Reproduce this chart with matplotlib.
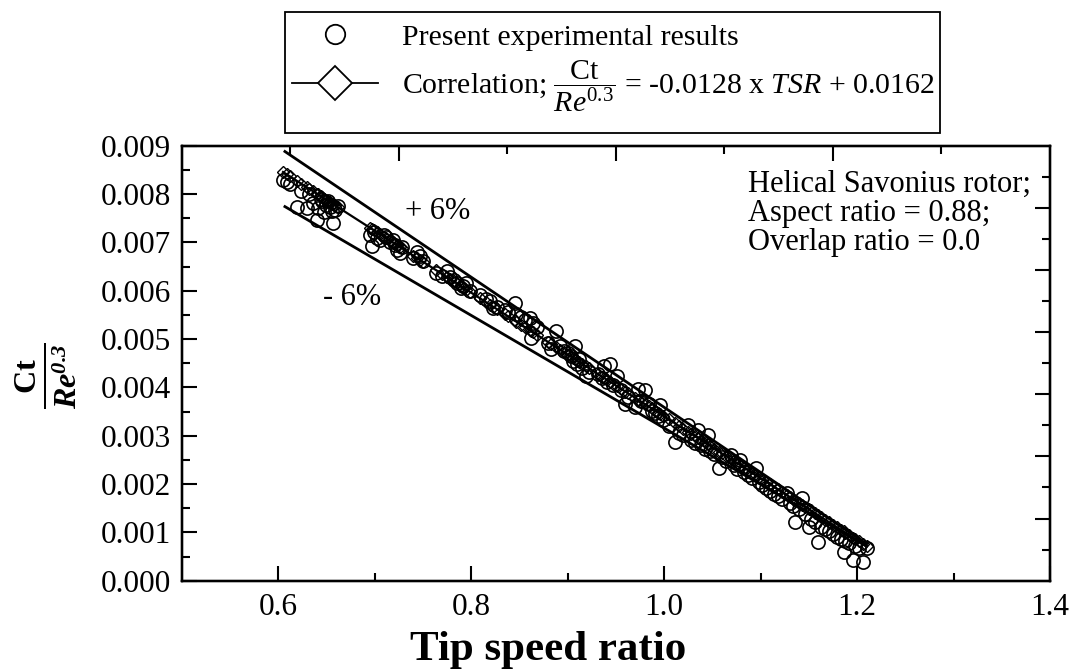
import matplotlib
matplotlib.use("Agg")
import matplotlib.pyplot as plt
from matplotlib.lines import Line2D
from matplotlib.patches import Rectangle
import numpy as np

plt.rcParams['font.family'] = ['Liberation Serif', 'DejaVu Serif']
plt.rcParams['mathtext.fontset'] = 'custom'
plt.rcParams['mathtext.rm'] = 'Liberation Serif'
plt.rcParams['mathtext.it'] = 'Liberation Serif:italic'
plt.rcParams['mathtext.bf'] = 'Liberation Serif:bold'
plt.rcParams['mathtext.bfit'] = 'Liberation Serif:bold:italic'

# ---------------- data ----------------
tsr = [0.605, 0.609, 0.612, 0.619, 0.624, 0.630, 0.632, 0.636, 0.640, 0.641, 0.644, 0.645, 0.648, 0.650,
       0.652, 0.654, 0.656, 0.657, 0.659, 0.662,
       0.695, 0.697, 0.699, 0.702, 0.706, 0.710, 0.712, 0.716, 0.719, 0.721, 0.723, 0.726, 0.728,
       0.740, 0.744, 0.747, 0.750,
       0.764, 0.770, 0.775, 0.778, 0.782, 0.785, 0.789, 0.792, 0.795, 0.799,
       0.809, 0.815, 0.820, 0.823, 0.827, 0.835, 0.838, 0.845, 0.847, 0.852, 0.856, 0.861, 0.862, 0.864, 0.868,
       0.880, 0.883, 0.888, 0.892, 0.896, 0.900, 0.903, 0.906, 0.908, 0.910, 0.912, 0.915, 0.919, 0.922,
       0.932, 0.936, 0.938, 0.941, 0.944, 0.947, 0.951, 0.955, 0.960, 0.963,
       0.970, 0.973, 0.976, 0.980, 0.984, 0.987, 0.991, 0.994, 0.996, 0.999,
       1.005, 1.011, 1.015, 1.020, 1.025, 1.028, 1.032, 1.035, 1.038, 1.042, 1.045, 1.048,
       1.052, 1.057, 1.060, 1.064, 1.069, 1.072, 1.076, 1.079, 1.083, 1.087, 1.091, 1.095, 1.098,
       1.102, 1.106, 1.110, 1.114, 1.118, 1.122, 1.127, 1.130, 1.134, 1.136, 1.140, 1.143, 1.146, 1.150,
       1.152, 1.156, 1.160,
       1.163, 1.167, 1.171, 1.175, 1.179, 1.183, 1.186, 1.188, 1.192, 1.196, 1.198, 1.202, 1.206, 1.210]
ct_re = [0.00829, 0.00824, 0.00820, 0.00774, 0.00806, 0.00771, 0.00800, 0.00782, 0.00747, 0.00772, 0.00790,
         0.00785, 0.00762, 0.00778, 0.00786, 0.00774, 0.00765, 0.00740, 0.00768, 0.00775,
         0.00716, 0.00692, 0.00722, 0.00710, 0.00705, 0.00715, 0.00712, 0.00700, 0.00705, 0.00695, 0.00685,
         0.00678, 0.00690,
         0.00667, 0.00681, 0.00672, 0.00662,
         0.00636, 0.00630, 0.00640, 0.00628, 0.00623, 0.00615, 0.00605, 0.00610, 0.00616, 0.00600,
         0.00592, 0.00582, 0.00578, 0.00565, 0.00567, 0.00561, 0.00555, 0.00575, 0.00551, 0.00545, 0.00540,
         0.00544, 0.00503, 0.00534, 0.00525,
         0.00492, 0.00479, 0.00517, 0.00485, 0.00475, 0.00471, 0.00465, 0.00455, 0.00486, 0.00448, 0.00459,
         0.00440, 0.00424, 0.00432,
         0.00428, 0.00420, 0.00445, 0.00411, 0.00448, 0.00405, 0.00424, 0.00395, 0.00366, 0.00380,
         0.00360, 0.00397, 0.00372, 0.00394, 0.00365, 0.00352, 0.00346, 0.00340, 0.00363, 0.00332,
         0.00320, 0.00288, 0.00305, 0.00302, 0.00322, 0.00292, 0.00285, 0.00312, 0.00280, 0.00272, 0.00302,
         0.00268,
         0.00262, 0.00233, 0.00255, 0.00248, 0.00260, 0.00240, 0.00232, 0.00250, 0.00225, 0.00218, 0.00212,
         0.00233, 0.00205,
         0.00198, 0.00192, 0.00186, 0.00180, 0.00175, 0.00170, 0.00181, 0.00160, 0.00155, 0.00122, 0.00148,
         0.00171, 0.00138, 0.00112, 0.00128, 0.00122, 0.00081,
         0.00112, 0.00108, 0.00102, 0.00096, 0.00091, 0.00086, 0.00060, 0.00082, 0.00077, 0.00043, 0.00072,
         0.00068, 0.00039, 0.00067]

# correlation: Ct/Re^0.3 = slope * TSR + intercept
corr_slope = -0.0128
corr_intercept = 0.0162
corr_x_range = [0.605, 1.21]

# +/- 6 % band lines (end points)
band_plus_x = [0.607, 1.21]
band_plus_y = [0.00888, 0.00076]
band_minus_x = [0.607, 1.21]
band_minus_y = [0.00774, 0.00071]

x_ticks = [0.6, 0.8, 1.0, 1.2, 1.4]
y_ticks = [0.000, 0.001, 0.002, 0.003, 0.004, 0.005, 0.006, 0.007, 0.008, 0.009]

# ---------------- figure ----------------
W, H = 1078, 671
fig = plt.figure(figsize=(W / 100, H / 100), dpi=100)
ax_l, ax_r, ax_b, ax_t = 181.7, 1050, 580.7, 145.7
ax = fig.add_axes([ax_l / W, 1 - ax_b / H, (ax_r - ax_l) / W, (ax_b - ax_t) / H])

# experimental points
ax.plot(tsr, ct_re, linestyle='none', marker='o', ms=9.5, mfc='none', mec='black', mew=1.2, zorder=3)

# band lines
ax.plot(band_plus_x, band_plus_y, color='black', lw=2.0, zorder=4)
ax.plot(band_minus_x, band_minus_y, color='black', lw=2.0, zorder=4)

# correlation line with diamonds at each measured TSR
cx = np.array(corr_x_range)
ax.plot(cx, corr_slope * cx + corr_intercept, color='black', lw=1.6, zorder=4)
tsr_arr = np.array(tsr)
ax.plot(tsr_arr, corr_slope * tsr_arr + corr_intercept, linestyle='none', marker='D', ms=6,
        mfc='none', mec='black', mew=1.0, zorder=5)

ax.set_xlim(0.5, 1.4)
ax.set_ylim(0.0, 0.009)
ax.set_xticks(x_ticks)
ax.set_xticklabels([f"{v:.1f}" for v in x_ticks])
ax.set_xticks([0.7, 0.9, 1.1, 1.3], minor=True)
ax.set_yticks(y_ticks)
ax.set_yticklabels([f"{v:.3f}" for v in y_ticks])
ax.set_yticks([0.0005 + 0.001 * i for i in range(9)], minor=True)
ax.tick_params(axis='both', which='major', direction='in', length=11, width=1.5, labelsize=22.5, pad=8)
ax.tick_params(axis='both', which='minor', direction='in', length=6, width=1.5)
ax.tick_params(axis='x', which='major', pad=9)
for s in ax.spines.values():
    s.set_linewidth(1.6)

# top and right axes (own tick divisions, no labels)
axt = ax.twiny()
axt.set_xlim(0, 8)
axt.set_xticks([2, 4, 6])
axt.set_xticks([1, 3, 5, 7], minor=True)
axt.tick_params(axis='x', which='major', direction='in', length=11, width=1.5, labeltop=False)
axt.tick_params(axis='x', which='minor', direction='in', length=6, width=1.5)
axr = ax.twinx()
axr.set_ylim(0, 14)
axr.set_yticks([2, 4, 6, 8, 10, 12])
axr.set_yticks([1, 3, 5, 7, 9, 11, 13], minor=True)
axr.tick_params(axis='y', which='major', direction='in', length=11, width=1.5, labelright=False)
axr.tick_params(axis='y', which='minor', direction='in', length=6, width=1.5)
for a in (axt, axr):
    for s in a.spines.values():
        s.set_linewidth(1.6)

# annotations
ax.text(0.765, 0.00763, '+ 6%', fontsize=22, ha='center', va='center')
ax.text(0.677, 0.00585, '- 6%', fontsize=22, ha='center', va='center')
ax.text(0.652, 0.845, 'Helical Savonius rotor;\nAspect ratio = 0.88;\nOverlap ratio = 0.0',
        transform=ax.transAxes, fontsize=22, ha='left', va='center', linespacing=1.0)

# axis labels
fig.text(548 / W, 1 - 650 / H, 'Tip speed ratio', fontsize=31, fontweight='bold', ha='center', va='center')
fig.text(46 / W, 1 - 376 / H, r'$\frac{\mathbf{Ct}}{\mathbfit{Re}^{\mathbfit{0.3}}}$', fontsize=33,
         ha='center', va='center', rotation=90)

# legend box
box = Rectangle((285 / W, 1 - 133 / H), 655 / W, 121 / H, transform=fig.transFigure,
                fill=False, edgecolor='black', lw=1.3)
fig.patches.append(box)
h1 = Line2D([], [], linestyle='none', marker='o', ms=14, mfc='none', mec='black', mew=1.3)
h2 = Line2D([], [], color='black', lw=1.3, marker='D', ms=17, mfc='white', mec='black', mew=1.3)
leg = fig.legend([h1, h2],
                 ['Present experimental results',
                  r'Correlation; $\dfrac{\mathrm{Ct}}{Re^{0.3}}$ = -0.0128 x $TSR$ + 0.0162'],
                 loc='upper left', bbox_to_anchor=(268 / W, 1.0), frameon=False,
                 fontsize=21.5, handlelength=2.9, handletextpad=0.8, labelspacing=0.25, borderpad=0.3)

fig.savefig('out.png', dpi=100)
